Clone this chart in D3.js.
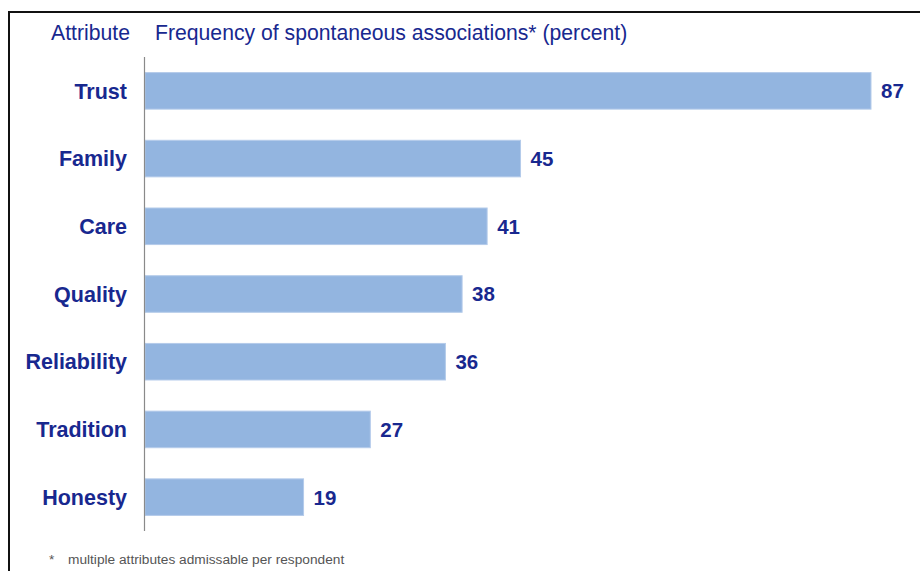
<!DOCTYPE html>
<html>
<head>
<meta charset="utf-8">
<script src="https://cdn.jsdelivr.net/npm/d3@7"></script>
<style>
  body { margin: 0; background: #fff; }
  svg { display: block; font-family: "Liberation Sans", Arial, sans-serif; }
</style>
</head>
<body>
<div id="chart"></div>
<script>
// attribute names and their share of spontaneous associations
const attributes = ['Trust', 'Family', 'Care', 'Quality', 'Reliability', 'Tradition', 'Honesty']
const percents = [87, 45, 41, 38, 36, 27, 19]

const width = 920
const height = 571
const navy = '#18288f'

const svg = d3.select('#chart')
    .append('svg')
    .attr('width', width)
    .attr('height', height)

// frame lines along top and left
svg.append('line')
    .attr('x1', 8).attr('x2', width)
    .attr('y1', 12).attr('y2', 12)
    .attr('stroke', '#111').attr('stroke-width', 2)
svg.append('line')
    .attr('x1', 9).attr('x2', 9)
    .attr('y1', 11).attr('y2', height)
    .attr('stroke', '#111').attr('stroke-width', 2)

const xScale = d3.scaleLinear()
    .domain([0, 87])
    .range([145, 871])

const yScale = d3.scaleBand()
    .domain(attributes)
    .range([57, 531])
    .paddingInner(0.46)
    .paddingOuter(0.23)

// header texts
svg.append('text')
    .attr('x', 130)
    .attr('y', 40)
    .attr('text-anchor', 'end')
    .attr('font-size', '21.2px')
    .attr('fill', navy)
    .text('Attribute')

svg.append('text')
    .attr('x', 155)
    .attr('y', 40)
    .attr('font-size', '21.2px')
    .attr('fill', navy)
    .text('Frequency of spontaneous associations* (percent)')

// bars
svg.selectAll('.bar')
    .data(attributes)
    .enter()
    .append('rect')
        .attr('class', 'bar')
        .attr('x', xScale(0))
        .attr('y', d => yScale(d))
        .attr('width', (d, i) => xScale(percents[i]) - xScale(0))
        .attr('height', yScale.bandwidth())
        .attr('fill', '#93b5e0')
        .attr('stroke', '#b4cbea')
        .attr('stroke-width', 1)

// vertical axis line
svg.append('line')
    .attr('x1', 144.5).attr('x2', 144.5)
    .attr('y1', 57).attr('y2', 531)
    .attr('stroke', '#8a8a8a').attr('stroke-width', 1.2)

// category labels
svg.selectAll('.label')
    .data(attributes)
    .enter()
    .append('text')
        .attr('class', 'label')
        .attr('x', 127)
        .attr('y', d => yScale(d) + yScale.bandwidth() / 2)
        .attr('dy', '0.36em')
        .attr('text-anchor', 'end')
        .attr('font-size', '21.5px')
        .attr('font-weight', 'bold')
        .attr('fill', navy)
        .text(d => d)

// value labels
svg.selectAll('.value')
    .data(attributes)
    .enter()
    .append('text')
        .attr('class', 'value')
        .attr('x', (d, i) => xScale(percents[i]) + 10)
        .attr('y', d => yScale(d) + yScale.bandwidth() / 2)
        .attr('dy', '0.36em')
        .attr('font-size', '20.5px')
        .attr('font-weight', 'bold')
        .attr('fill', navy)
        .text((d, i) => percents[i])

// footnote
svg.append('text')
    .attr('x', 49)
    .attr('y', 564)
    .attr('font-size', '13.7px')
    .attr('fill', '#555')
    .text('*')
svg.append('text')
    .attr('x', 68)
    .attr('y', 564)
    .attr('font-size', '13.7px')
    .attr('fill', '#555')
    .text('multiple attributes admissable per respondent')
</script>
</body>
</html>
